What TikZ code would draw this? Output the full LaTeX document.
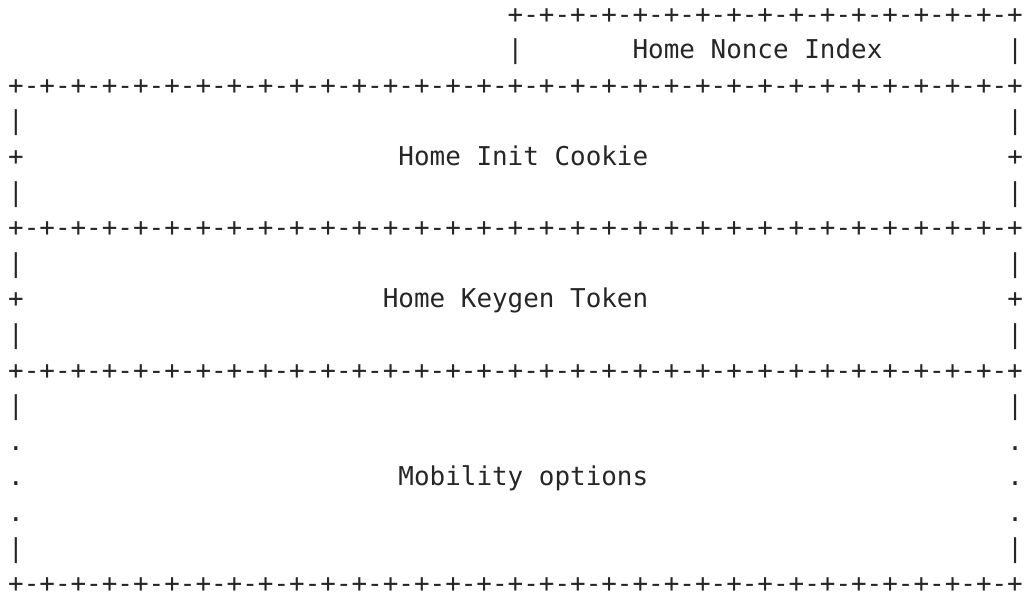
\documentclass[tikz,border=0pt]{standalone}
\usepackage{fontspec}
\setmonofont{DejaVu Sans Mono}
\usepackage{tikz}

\tikzset{
  chr/.style={anchor=base west, inner sep=0pt, outer sep=0pt,
              font=\ttfamily\fontsize{25.93pt}{35.6pt}\selectfont, text=black!85}
}
\newcommand{\fullrule}{+-+-+-+-+-+-+-+-+-+-+-+-+-+-+-+-+-+-+-+-+-+-+-+-+-+-+-+-+-+-+-+-+}
\newcommand{\halfrule}{+-+-+-+-+-+-+-+-+-+-+-+-+-+-+-+-+}

\begin{document}
\begin{tikzpicture}
  \useasboundingbox (0pt,0pt) rectangle (1024pt,-597pt);
  % one unit = one character cell, rows run downwards
  \begin{scope}[shift={(8.2pt,-23pt)}, x=15.61pt, y=-35.6pt]
    \node[chr] (nonceTop) at (32, 0) {\halfrule};
    \node[chr] (nonceL)   at (32, 1) {|};
    \node[chr] (nonce)    at (40, 1) {Home Nonce Index};
    \node[chr] (nonceR)   at (64, 1) {|};
    \node[chr] (ruleA)    at ( 0, 2) {\fullrule};
    % home init cookie
    \node[chr] (initL1)   at ( 0, 3) {|};  \node[chr] (initR1) at (64, 3) {|};
    \node[chr] (initL2)   at ( 0, 4) {+};  \node[chr] (initR2) at (64, 4) {+};
    \node[chr] (initL3)   at ( 0, 5) {|};  \node[chr] (initR3) at (64, 5) {|};
    \node[chr] (cookie)   at (25, 4) {Home Init Cookie};
    \node[chr] (ruleB)    at ( 0, 6) {\fullrule};
    % home keygen token
    \node[chr] (keyL1)    at ( 0, 7) {|};  \node[chr] (keyR1)  at (64, 7) {|};
    \node[chr] (keyL2)    at ( 0, 8) {+};  \node[chr] (keyR2)  at (64, 8) {+};
    \node[chr] (keyL3)    at ( 0, 9) {|};  \node[chr] (keyR3)  at (64, 9) {|};
    \node[chr] (token)    at (24, 8) {Home Keygen Token};
    \node[chr] (ruleC)    at ( 0,10) {\fullrule};
    % mobility options
    \node[chr] (optL1)    at ( 0,11) {|};  \node[chr] (optR1)  at (64,11) {|};
    \node[chr] (optL2)    at ( 0,12) {.};  \node[chr] (optR2)  at (64,12) {.};
    \node[chr] (optL3)    at ( 0,13) {.};  \node[chr] (optR3)  at (64,13) {.};
    \node[chr] (optL4)    at ( 0,14) {.};  \node[chr] (optR4)  at (64,14) {.};
    \node[chr] (optL5)    at ( 0,15) {|};  \node[chr] (optR5)  at (64,15) {|};
    \node[chr] (options)  at (25,13) {Mobility options};
    \node[chr] (ruleD)    at ( 0,16) {\fullrule};
  \end{scope}
\end{tikzpicture}
\end{document}
